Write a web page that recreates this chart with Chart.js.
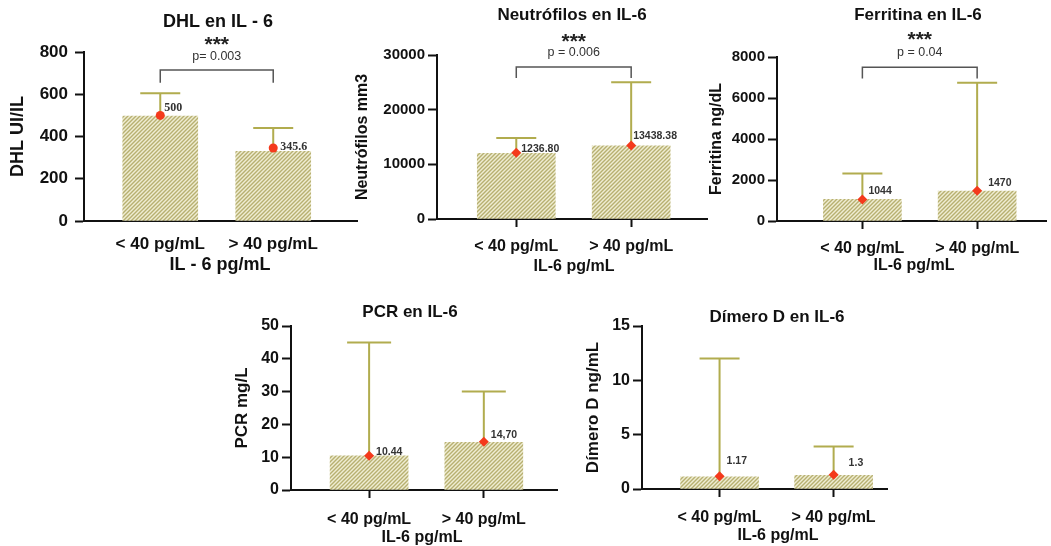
<!DOCTYPE html>
<html><head><meta charset="utf-8">
<script src="https://cdn.jsdelivr.net/npm/chart.js@4.4.1/dist/chart.umd.min.js"></script>
<style>
html,body{margin:0;padding:0;background:#fff;width:1051px;height:546px;overflow:hidden;position:relative;}
canvas{position:absolute;}
</style></head><body>
<script>
// ---------- data ----------
const categories = ['< 40 pg/mL', '> 40 pg/mL'];

const dhlBars   = [497, 330];
const dhlMeans  = [500, 345.6];
const dhlUpper  = [605, 440];
const dhlLabels = ['500', '345.6'];
const dhlTicks  = [0, 200, 400, 600, 800];
const dhlBracket = [715, 655];

const neuBars   = [12000, 13400];
const neuMeans  = [12100, 13438.38];
const neuUpper  = [14800, 25000];
const neuLabels = ['1236.80', '13438.38'];
const neuTicks  = [0, 10000, 20000, 30000];
const neuBracket = [27800, 25800];

const ferBars   = [1060, 1460];
const ferMeans  = [1044, 1470];
const ferUpper  = [2320, 6750];
const ferLabels = ['1044', '1470'];
const ferTicks  = [0, 2000, 4000, 6000, 8000];
const ferBracket = [7500, 6950];

const pcrBars   = [10.4, 14.5];
const pcrMeans  = [10.44, 14.70];
const pcrUpper  = [45, 30];
const pcrLabels = ['10.44', '14,70'];
const pcrTicks  = [0, 10, 20, 30, 40, 50];

const dimBars   = [1.12, 1.25];
const dimMeans  = [1.17, 1.3];
const dimUpper  = [12, 3.9];
const dimLabels = ['1.17', '1.3'];
const dimTicks  = [0, 5, 10, 15];

// ---------- styling ----------
Chart.defaults.font.family = '"Liberation Sans", Arial, Helvetica, sans-serif';
Chart.defaults.color = '#111';

function makeHatch() {
  const c = document.createElement('canvas');
  c.width = 4; c.height = 4;
  const g = c.getContext('2d');
  g.fillStyle = '#efedd2'; g.fillRect(0, 0, 4, 4);
  g.strokeStyle = '#b7b071'; g.lineWidth = 1.4;
  g.beginPath();
  g.moveTo(-1, 5); g.lineTo(5, -1);
  g.moveTo(-1, 1); g.lineTo(1, -1);
  g.moveTo(3, 5); g.lineTo(5, 3);
  g.stroke();
  return g.createPattern(c, 'repeat');
}
const hatch = makeHatch();

function panel(o) {
  const cv = document.createElement('canvas');
  cv.width = o.box.w; cv.height = o.box.h;
  cv.style.left = o.box.x + 'px'; cv.style.top = o.box.y + 'px';
  document.body.appendChild(cv);
  const A = o.area;
  const yW = A.l - o.box.x;
  const padTop = A.t - o.box.y;
  const padRight = o.box.x + o.box.w - A.r;
  const xH = o.box.y + o.box.h - A.b;
  const bx = o.box.x, by = o.box.y;

  const annot = {
    id: 'annot' + o.id,
    beforeDatasetDraw(chart, args) {
      if (args.index !== 1) return;
      const ctx = chart.ctx, xs = chart.scales.x, ys = chart.scales.y;
      ctx.save();
      ctx.strokeStyle = '#b1ac4e'; ctx.lineWidth = 2;
      o.means.forEach((m, i) => {
        const x = xs.getPixelForValue(i);
        const y0 = ys.getPixelForValue(m), y1 = ys.getPixelForValue(o.upper[i]);
        ctx.beginPath();
        ctx.moveTo(x, y0); ctx.lineTo(x, y1);
        ctx.moveTo(x - o.capW / 2, y1); ctx.lineTo(x + o.capW / 2, y1);
        ctx.stroke();
      });
      ctx.restore();
    },
    afterDraw(chart) {
      const ctx = chart.ctx, xs = chart.scales.x, ys = chart.scales.y;
      ctx.save();
      // point labels
      ctx.fillStyle = '#333';
      ctx.font = o.labelFont;
      ctx.textAlign = 'left'; ctx.textBaseline = 'middle';
      o.labels.forEach((t, i) => {
        const x = xs.getPixelForValue(i), y = ys.getPixelForValue(o.means[i]);
        ctx.fillText(t, x + o.labelOff[i][0], y + o.labelOff[i][1]);
      });
      // chart title
      ctx.fillStyle = '#111';
      ctx.textAlign = 'center';
      ctx.font = 'bold ' + o.titleSize + 'px "Liberation Sans", Arial, sans-serif';
      ctx.fillText(o.title, o.titlePos[0] - bx, o.titlePos[1] - by);
      // x axis title
      ctx.font = 'bold ' + o.xTitleSize + 'px "Liberation Sans", Arial, sans-serif';
      ctx.fillText(o.xTitle, o.xTitlePos[0] - bx, o.xTitlePos[1] - by);
      // significance bracket
      if (o.bracket) {
        const x0 = xs.getPixelForValue(0), x1 = xs.getPixelForValue(1);
        const yt = ys.getPixelForValue(o.bracket[0]), yl = ys.getPixelForValue(o.bracket[1]);
        ctx.strokeStyle = '#555'; ctx.lineWidth = 1.5;
        ctx.beginPath();
        ctx.moveTo(x0, yl); ctx.lineTo(x0, yt); ctx.lineTo(x1, yt); ctx.lineTo(x1, yl);
        ctx.stroke();
        const xc = (x0 + x1) / 2;
        ctx.fillStyle = '#222';
        ctx.font = 'bold 21px "Liberation Sans", Arial, sans-serif';
        ctx.fillText('***', xc, o.sigY[0] - by + 3);
        ctx.fillStyle = '#333';
        ctx.font = '12.5px "Liberation Sans", Arial, sans-serif';
        ctx.fillText(o.pText, xc, o.sigY[1] - by);
      }
      ctx.restore();
    }
  };

  new Chart(cv, {
    type: 'bar',
    data: {
      datasets: [
        { type: 'bar', data: o.bars.map((v, i) => ({ x: i, y: v })), backgroundColor: hatch,
          borderWidth: 0, barThickness: o.barW, order: 2 },
        { type: 'line', data: o.means.map((v, i) => ({ x: i, y: v })), showLine: false,
          pointStyle: o.pointStyle, pointRadius: o.pointR, pointBackgroundColor: '#f43a1c',
          pointBorderColor: '#f43a1c', pointBorderWidth: 0, order: 1, clip: false }
      ]
    },
    options: {
      responsive: false, animation: false, events: [],
      layout: { padding: { top: padTop, right: padRight, left: 0, bottom: 0 } },
      plugins: { legend: { display: false }, tooltip: { enabled: false }, title: { display: false } },
      scales: {
        x: {
          type: 'linear', min: o.xMin, max: o.xMax, offset: false,
          afterBuildTicks: s => { s.ticks = categories.map((c, i) => ({ value: i })); },
          afterFit: s => { s.height = xH; },
          ticks: { callback: v => categories[v], font: { size: o.xTickSize, weight: 'bold' },
                   color: '#111', padding: o.xTickPad, maxRotation: 0, autoSkip: false },
          grid: { offset: false, drawOnChartArea: false, drawTicks: o.xTicks, tickLength: 8,
                  tickWidth: 2, tickColor: '#111' },
          border: { display: true, color: '#111', width: 2 }
        },
        y: {
          type: 'linear', min: 0, max: o.ticks[o.ticks.length - 1],
          afterBuildTicks: s => { s.ticks = o.ticks.map(v => ({ value: v })); },
          afterFit: s => { s.width = yW; },
          ticks: { callback: v => String(v), font: { size: o.yTickSize, weight: 'bold' },
                   color: '#111', padding: o.yTickPad },
          grid: { drawOnChartArea: false, tickLength: 9, tickWidth: 2, tickColor: '#111' },
          border: { color: '#111', width: 2 },
          title: { display: true, text: o.yTitle, color: '#111',
                   font: { size: o.yTitleSize, weight: 'bold' },
                   padding: { top: o.yTitleX - bx - o.yTitleSize * 0.6, bottom: 0 } }
        }
      }
    },
    plugins: [annot]
  });
}

panel({ id: 1, box: { x: 0, y: 0, w: 362, h: 285 }, area: { l: 84, r: 360, t: 52, b: 221 },
  xMin: -0.675, xMax: 1.746, barW: 75, capW: 40,
  bars: dhlBars, means: dhlMeans, upper: dhlUpper, labels: dhlLabels, ticks: dhlTicks,
  bracket: dhlBracket, pText: 'p= 0.003', sigY: [42, 57],
  labelFont: 'bold 12px "Liberation Serif", "DejaVu Serif", serif', labelOff: [[4, -7], [7, -1]],
  pointStyle: 'circle', pointR: 4.5,
  title: 'DHL en IL - 6', titlePos: [218, 22], titleSize: 18,
  xTitle: 'IL - 6 pg/mL', xTitlePos: [220, 265], xTitleSize: 18,
  yTitle: 'DHL UI/IL', yTitleX: 18, yTitleSize: 18,
  xTicks: false, xTickSize: 17, xTickPad: 13, yTickSize: 17, yTickPad: 7 });

panel({ id: 2, box: { x: 345, y: 0, w: 367, h: 285 }, area: { l: 437, r: 710, t: 55, b: 219 },
  xMin: -0.69, xMax: 1.66, barW: 78, capW: 40,
  bars: neuBars, means: neuMeans, upper: neuUpper, labels: neuLabels, ticks: neuTicks,
  bracket: neuBracket, pText: 'p = 0.006', sigY: [39, 53],
  labelFont: 'bold 10.5px "Liberation Sans", Arial, sans-serif', labelOff: [[5, -4], [2, -9]],
  pointStyle: 'rectRot', pointR: 5,
  title: 'Neutrófilos en IL-6', titlePos: [572, 15], titleSize: 17,
  xTitle: 'IL-6 pg/mL', xTitlePos: [574, 267], xTitleSize: 16,
  yTitle: 'Neutrófilos mm3', yTitleX: 363, yTitleSize: 16,
  xTicks: true, xTickSize: 16, xTickPad: 10, yTickSize: 15, yTickPad: 3 });

panel({ id: 3, box: { x: 700, y: 0, w: 351, h: 285 }, area: { l: 777, r: 1051, t: 57, b: 221 },
  xMin: -0.744, xMax: 1.6, barW: 78, capW: 40,
  bars: ferBars, means: ferMeans, upper: ferUpper, labels: ferLabels, ticks: ferTicks,
  bracket: ferBracket, pText: 'p = 0.04', sigY: [37, 53],
  labelFont: 'bold 10.5px "Liberation Sans", Arial, sans-serif', labelOff: [[6, -8], [11, -8]],
  pointStyle: 'rectRot', pointR: 5,
  title: 'Ferritina en IL-6', titlePos: [918, 15], titleSize: 17,
  xTitle: 'IL-6 pg/mL', xTitlePos: [914, 266], xTitleSize: 16,
  yTitle: 'Ferritina ng/dL', yTitleX: 717, yTitleSize: 16,
  xTicks: true, xTickSize: 16, xTickPad: 10, yTickSize: 15, yTickPad: 3 });

panel({ id: 4, box: { x: 230, y: 290, w: 332, h: 256 }, area: { l: 291, r: 560, t: 326, b: 490 },
  xMin: -0.681, xMax: 1.638, barW: 78, capW: 44,
  bars: pcrBars, means: pcrMeans, upper: pcrUpper, labels: pcrLabels, ticks: pcrTicks,
  bracket: null,
  labelFont: 'bold 10.5px "Liberation Sans", Arial, sans-serif', labelOff: [[7, -4], [7, -7]],
  pointStyle: 'rectRot', pointR: 5,
  title: 'PCR en IL-6', titlePos: [410, 312], titleSize: 17,
  xTitle: 'IL-6 pg/mL', xTitlePos: [422, 538], xTitleSize: 16,
  yTitle: 'PCR mg/L', yTitleX: 242, yTitleSize: 17,
  xTicks: true, xTickSize: 16, xTickPad: 12, yTickSize: 16, yTickPad: 3 });

panel({ id: 5, box: { x: 570, y: 290, w: 322, h: 256 }, area: { l: 642, r: 890, t: 326, b: 489 },
  xMin: -0.68, xMax: 1.468, barW: 78, capW: 40,
  bars: dimBars, means: dimMeans, upper: dimUpper, labels: dimLabels, ticks: dimTicks,
  bracket: null,
  labelFont: 'bold 10.5px "Liberation Sans", Arial, sans-serif', labelOff: [[7, -15], [15, -12]],
  pointStyle: 'rectRot', pointR: 5,
  title: 'Dímero D en IL-6', titlePos: [777, 317], titleSize: 17,
  xTitle: 'IL-6 pg/mL', xTitlePos: [778, 536], xTitleSize: 16,
  yTitle: 'Dímero D ng/mL', yTitleX: 593, yTitleSize: 17,
  xTicks: true, xTickSize: 16, xTickPad: 11, yTickSize: 16, yTickPad: 3 });
</script>
</body></html>
